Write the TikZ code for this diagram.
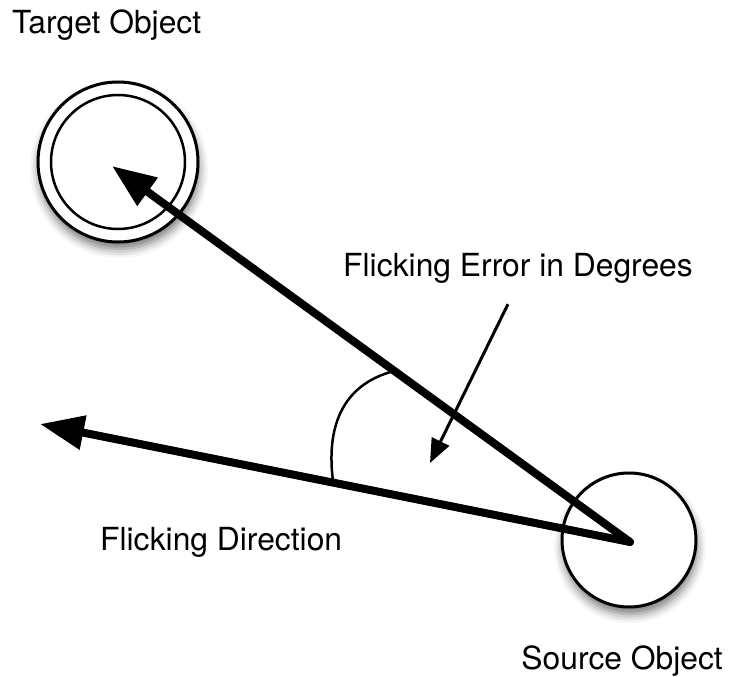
\documentclass[tikz,border=0pt]{standalone}
\usepackage{fontspec}
\setmainfont{TeX Gyre Heros}
\usetikzlibrary{arrows.meta, calc, shadows.blur}
\tikzset{
	objnode/.style={
			shape=circle,
			draw=black,
			line width=3pt,
			fill=white,
			inner sep=0pt,
			blur shadow={shadow xshift=1pt, shadow yshift=-7pt,
					shadow blur radius=9pt, shadow opacity=55}
		},
	innernode/.style={
			shape=circle,
			draw=black,
			line width=2.5pt,
			inner sep=0pt
		},
	flickline/.style={
			line width=8pt,
			line cap=round,
			-{Triangle[length=44pt, width=33pt]}
		},
	pointline/.style={
			line width=3pt,
			-{Triangle[length=24pt, width=19pt]}
		},
	labeltext/.style={font=\fontsize{31.8}{38}\selectfont, inner sep=0pt}
}
\begin{document}
\begin{tikzpicture}[x=1pt, y=-1pt]
	\useasboundingbox (0,0) rectangle (729,677);

	\node[objnode, minimum size=160pt] (tgtobj) at (118,162) {};
	\node[innernode, minimum size=134pt] (tgtin) at (118,162) {};
	\node[objnode, minimum size=134pt] (srcobj) at (629,540) {};

	\coordinate (flick) at (630,542);
	\coordinate (aim) at (112,166);
	\coordinate (dir) at (40,424);

	\node[labeltext, anchor=base west] (tgtlbl) at (12,34) {Target Object};
	\node[labeltext, anchor=base east] (srclbl) at (723,669) {Source Object};
	\node[labeltext, anchor=base west] (dirlbl) at (100,550) {Flicking Direction};
	\node[labeltext, anchor=base west] (errlbl) at (343,276) {Flicking Error in Degrees};

	\draw[flickline] (flick) -- (aim);
	\draw[flickline] (flick) -- (dir);

	\coordinate (arcA) at ($(flick)!0.455!(aim)$);
	\coordinate (arcB) at ($(flick)!0.503!(dir)$);
	\draw[line width=2.5pt] (arcA) .. controls (340,385) and (326,430) .. (arcB);

	\coordinate (errtip) at (430,463);
	\draw[pointline] (errlbl.south) ++(-10pt,-21pt) coordinate (errfoot) -- (errtip);

\end{tikzpicture}
\end{document}
